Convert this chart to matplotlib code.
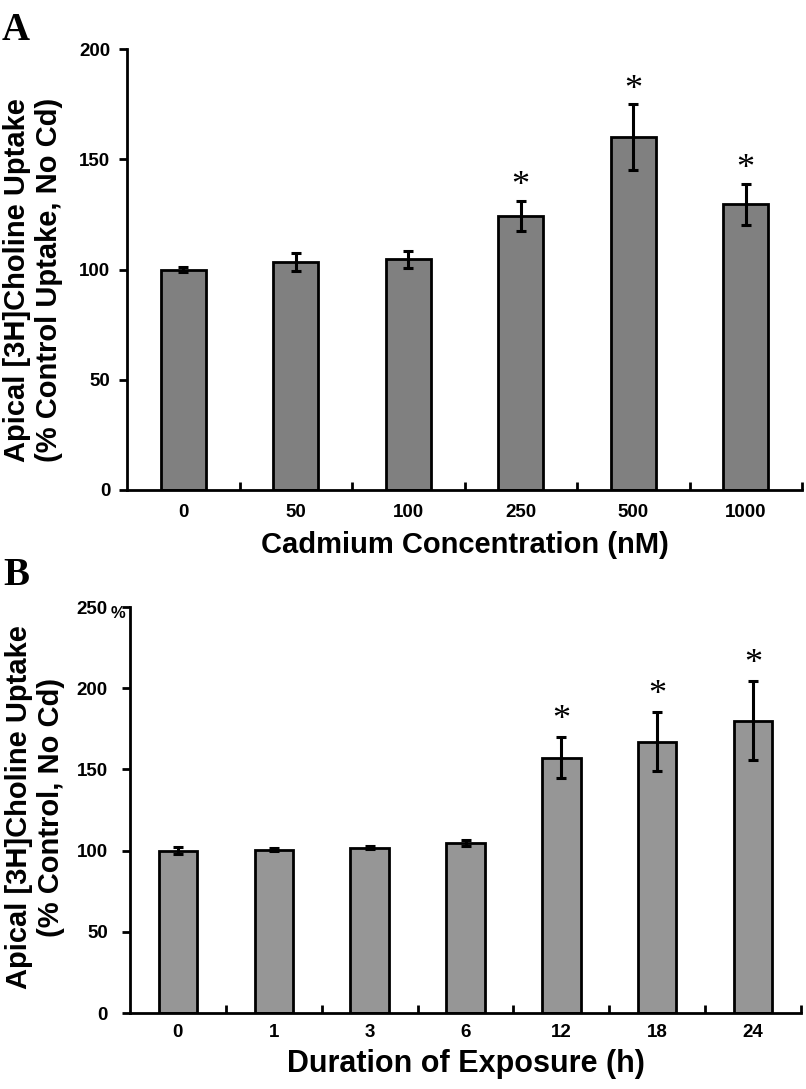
import matplotlib
matplotlib.use("Agg")
import matplotlib.pyplot as plt
import numpy as np

# Panel A data
cd_labels = ["0", "50", "100", "250", "500", "1000"]
cd_values = [100.0, 103.5, 104.7, 124.4, 160.0, 129.6]
cd_errors = [1.0, 4.2, 3.9, 6.8, 15.0, 9.3]
cd_sig = [False, False, False, True, True, True]

# Panel B data
time_labels = ["0", "1", "3", "6", "12", "18", "24"]
time_values = [100.0, 100.6, 101.8, 104.5, 157.3, 167.0, 180.0]
time_errors = [2.0, 0.8, 1.0, 1.9, 12.8, 18.2, 24.5]
time_sig = [False, False, False, False, True, True, True]

SANS = ["Liberation Sans", "DejaVu Sans"]
SERIF = ["Liberation Serif", "DejaVu Serif"]
plt.rcParams['font.family'] = SANS
plt.rcParams['font.weight'] = 'bold'

W, H = 806, 1089
fig = plt.figure(figsize=(W / 100, H / 100), dpi=100)

axA = fig.add_axes([127 / W, 1 - 490 / H, 675 / W, 441 / H])
axB = fig.add_axes([130 / W, 1 - 1013 / H, 671 / W, 406 / H])


def style_axis(ax, n, labels, ylim, yticks, ytick_fs, ypad, xtick_fs, xpad):
    for s in ["top", "right"]:
        ax.spines[s].set_visible(False)
    for s in ["left", "bottom"]:
        ax.spines[s].set_linewidth(2.0)
    ax.set_xlim(-0.5, n - 0.5)
    ax.set_ylim(*ylim)
    ax.set_yticks(yticks)
    ax.set_yticklabels([str(t) for t in yticks])
    ax.tick_params(axis='y', direction='out', length=6, width=2, pad=ypad,
                   labelsize=ytick_fs)
    # category labels on minor ticks (no marks); boundary marks as major ticks
    ax.set_xticks(np.arange(n) + 0.5)
    ax.set_xticklabels([])
    ax.tick_params(axis='x', which='major', direction='in', length=6, width=2)
    ax.set_xticks(np.arange(n), minor=True)
    ax.set_xticklabels(labels, minor=True)
    ax.tick_params(axis='x', which='minor', length=0, pad=xpad, labelsize=xtick_fs)
    for lab in ax.get_xticklabels(minor=True) + ax.get_yticklabels():
        lab.set_fontweight('bold')


def draw_bars(ax, values, errors, sig, color, star_off):
    x = np.arange(len(values))
    ax.bar(x, values, width=0.4, color=color, edgecolor='black', linewidth=2.0, zorder=2)
    ax.errorbar(x, values, yerr=errors, fmt='none', ecolor='black', elinewidth=2.2,
                capsize=3.5, capthick=2.2, zorder=3)
    for xi, v, e, s in zip(x, values, errors, sig):
        if s:
            ax.annotate("*", xy=(xi, v + e), xytext=(0, star_off), textcoords='offset points',
                        ha='center', va='center', fontsize=26, fontweight='normal',
                        family=SERIF)


style_axis(axA, len(cd_labels), cd_labels, (0, 200), [0, 50, 100, 150, 200], 13.5, 6, 13.5, 10)
draw_bars(axA, cd_values, cd_errors, cd_sig, '#808080', 10)
axA.set_xlabel("Cadmium Concentration (nM)", fontsize=21, fontweight='bold', va='center')
axA.xaxis.set_label_coords(0.5, (490 - 545) / 441)
axA.set_ylabel("Apical [3H]Choline Uptake\n(% Control Uptake, No Cd)", fontsize=21,
               fontweight='bold', linespacing=1.15, va='center')
axA.yaxis.set_label_coords((33 - 127) / 675, 0.476)

style_axis(axB, len(time_labels), time_labels, (0, 250), [0, 50, 100, 150, 200, 250], 13.5, 10, 13.5, 8)
draw_bars(axB, time_values, time_errors, time_sig, '#969696', 12)
axB.set_xlabel("Duration of Exposure (h)", fontsize=22, fontweight='bold', va='center')
axB.xaxis.set_label_coords(0.5, (1013 - 1064) / 406)
axB.set_ylabel("Apical [3H]Choline Uptake\n(% Control, No Cd)", fontsize=21,
               fontweight='bold', linespacing=1.15, va='center')
axB.yaxis.set_label_coords((35 - 130) / 671, 0.507)
axB.text((118 - 130) / 671, 1 - 7 / 406, "%", transform=axB.transAxes, fontsize=12,
         fontweight='bold', ha='center', va='center')

fig.text(2 / W, 1 - 40 / H, "A", fontsize=28, fontweight='bold', family=SERIF, va='baseline')
fig.text(3 / W, 1 - 585 / H, "B", fontsize=28, fontweight='bold', family=SERIF, va='baseline')

fig.savefig("out.png", dpi=100)
